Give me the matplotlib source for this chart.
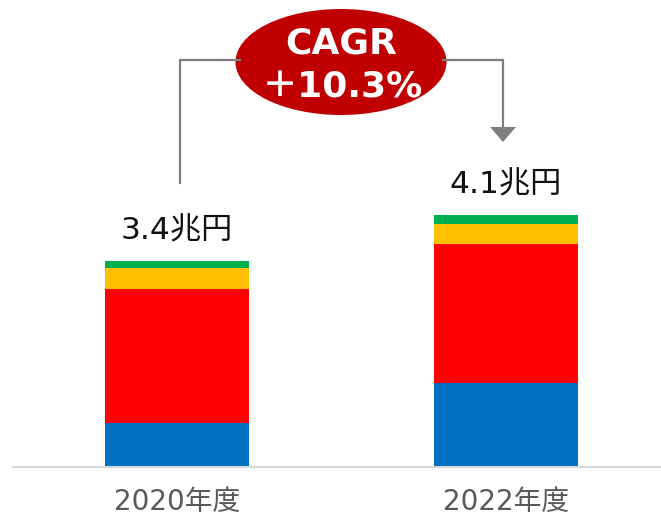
import matplotlib
matplotlib.use("Agg")
import matplotlib.pyplot as plt
from matplotlib.patches import Ellipse, Polygon
import numpy as np

plt.rcParams['font.family'] = ['DejaVu Sans', 'Noto Sans CJK JP']

categories = ["2020年度", "2022年度"]
blue_vals = [0.72, 1.38]
red_vals = [2.20, 2.28]
yellow_vals = [0.34, 0.33]
green_vals = [0.13, 0.15]
total_labels = ["3.4兆円", "4.1兆円"]
cagr_text = "CAGR\n＋10.3%"

colors = ["#0070C0", "#FF0000", "#FFC000", "#00B050"]

W, H = 661, 519
fig = plt.figure(figsize=(W / 100, H / 100), dpi=100)
ax = fig.add_axes([0, 0, 1, 1])

px_per_x = 329.0
px_per_y = 60.9
x0_px, base_px = 177.0, 467.0
ax.set_xlim(-x0_px / px_per_x, (W - x0_px) / px_per_x)
ax.set_ylim(-(H - base_px) / px_per_y, base_px / px_per_y)
ax.axis('off')

x = np.arange(len(categories))
bw = 144 / px_per_x
bottom = np.zeros(len(categories))
for vals, c in zip([blue_vals, red_vals, yellow_vals, green_vals], colors):
    ax.bar(x, vals, bw, bottom=bottom, color=c, linewidth=0)
    bottom += np.array(vals)

for xi, tot, lab in zip(x, bottom, total_labels):
    ax.text(xi, tot + 0.25, lab, ha='center', va='bottom', fontsize=22.5, color='#111111')
for xi, cat in zip(x, categories):
    ax.text(xi, -0.57, cat, ha='center', va='center', fontsize=20, color='#595959')

# baseline
ax.plot([(12 - x0_px) / px_per_x, (W - x0_px) / px_per_x], [0, 0], color='#d9d9d9', lw=1.5, solid_capstyle='butt')

# overlay axes in pixel coords for annotation
ov = fig.add_axes([0, 0, 1, 1])
ov.set_xlim(0, W)
ov.set_ylim(H, 0)
ov.axis('off')
ov.patch.set_alpha(0)

gray = '#7f7f7f'
ov.plot([180, 180, 240], [183, 60, 60], color=gray, lw=1.6, solid_joinstyle='miter')
ov.plot([443, 503, 503], [60, 60, 128], color=gray, lw=1.6, solid_joinstyle='miter')
ov.add_patch(Polygon([[490, 127], [516, 127], [503, 142]], closed=True, color=gray, lw=0))
ov.add_patch(Ellipse((341, 62), 211, 106, color='#C00000', lw=0))
lines = cagr_text.split("\n")
ov.text(341, 43, lines[0], ha='center', va='center', fontsize=26, fontweight='bold', color='white')
ov.text(342, 88, lines[1], ha='center', va='center', fontsize=26, fontweight='bold', color='white')

fig.savefig("out.png", dpi=100)
